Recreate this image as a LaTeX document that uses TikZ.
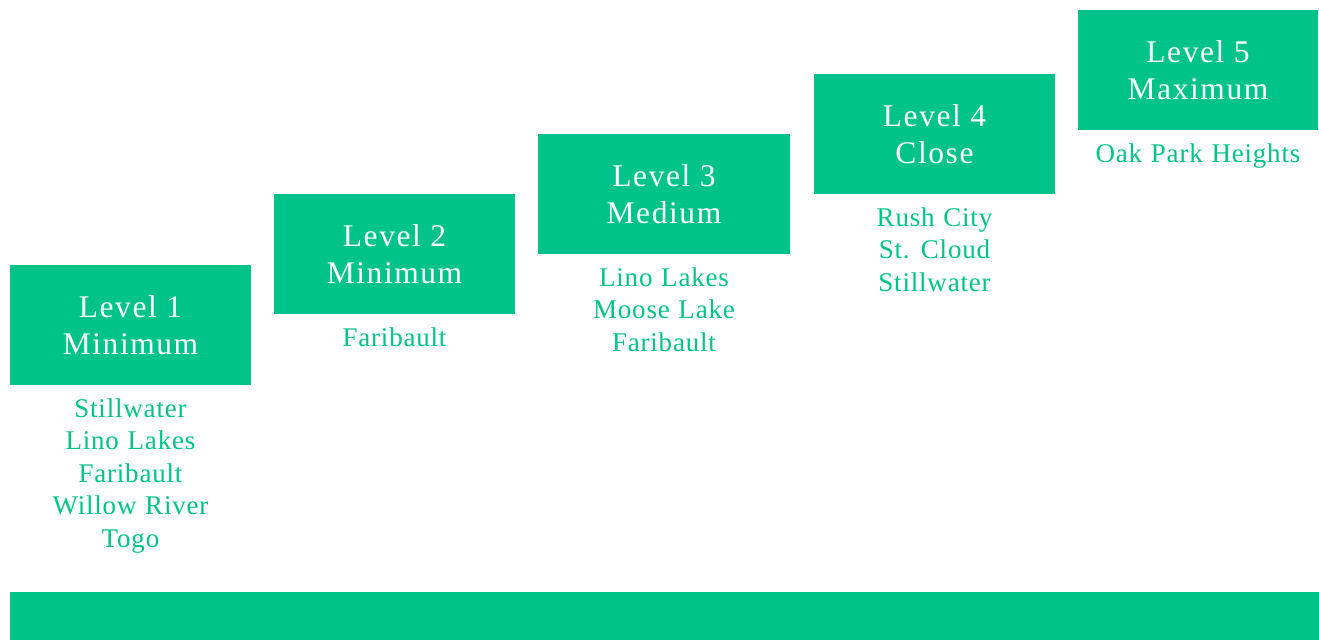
\documentclass[tikz,border=0pt]{standalone}
\usepackage{fontspec}
\setmainfont{Liberation Serif}[LetterSpace=3,WordSpace=1.15]
\newfontfamily\titlefont{Liberation Serif}[LetterSpace=5,WordSpace=1.0]
\definecolor{lvgreen}{HTML}{00C389}
\tikzset{
  levelbox/.style={rectangle, fill=lvgreen, inner sep=0pt, minimum height=120pt, text=white, align=center,
    font=\titlefont\fontsize{31.5}{37}\selectfont},
  sitelist/.style={anchor=north, inner sep=0pt, text=lvgreen, align=center,
    font=\fontsize{27}{32.6}\selectfont, yshift=-13pt},
}
\begin{document}
\begin{tikzpicture}[x=1pt,y=-1pt]
\useasboundingbox (0,0) rectangle (1319,640);
\node[levelbox, minimum width=241pt] (b1) at (130.5,325) {Level 1\\Minimum};
\node[levelbox, minimum width=241pt] (b2) at (394.5,254) {Level 2\\Minimum};
\node[levelbox, minimum width=252pt] (b3) at (664,194) {Level 3\\Medium};
\node[levelbox, minimum width=241pt] (b4) at (934.5,134) {Level 4\\Close};
\node[levelbox, minimum width=240pt] (b5) at (1198,70) {Level 5\\Maximum};
\node[sitelist] (s1) at (b1.south) {Stillwater\\Lino Lakes\\Faribault\\Willow River\\Togo};
\node[sitelist] (s2) at (b2.south) {Faribault};
\node[sitelist] (s3) at (b3.south) {Lino Lakes\\Moose Lake\\Faribault};
\node[sitelist] (s4) at (b4.south) {Rush City\\St. Cloud\\Stillwater};
\node[sitelist] (s5) at (b5.south) {Oak Park Heights};
\node[rectangle, fill=lvgreen, inner sep=0pt, minimum width=1309pt, minimum height=48pt, anchor=north west] (bar) at (10,592) {};
\end{tikzpicture}
\end{document}
